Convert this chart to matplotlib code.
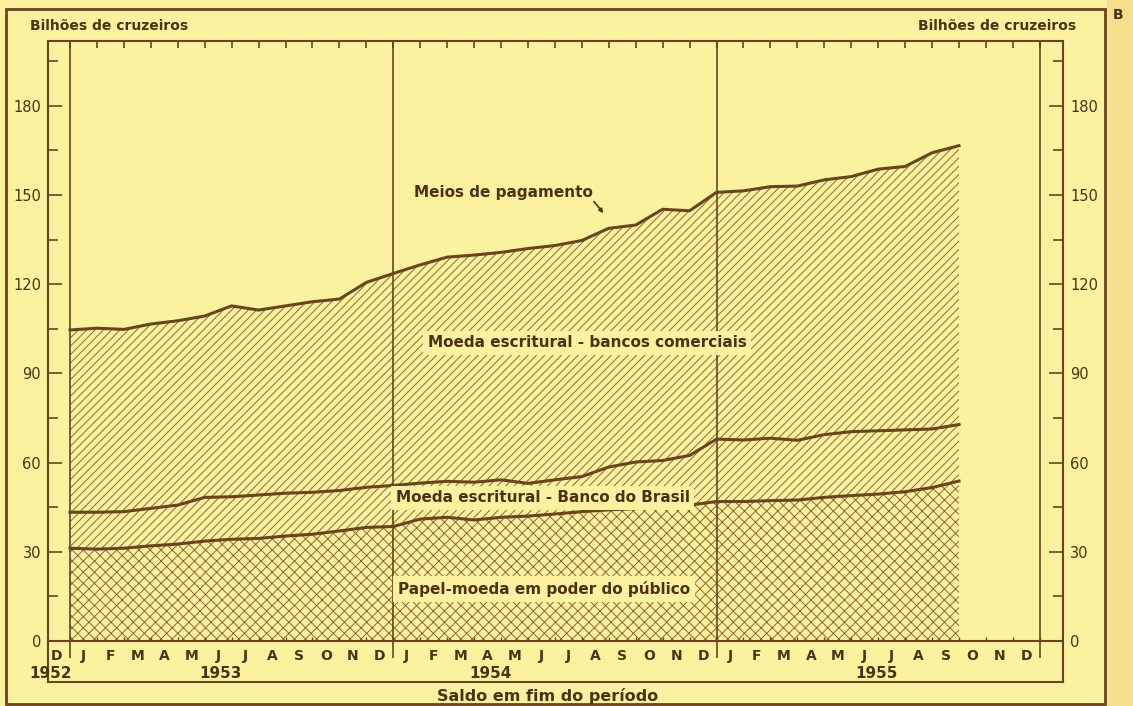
import numpy as np
import matplotlib
matplotlib.use("Agg")
import matplotlib.pyplot as plt
from matplotlib.patches import Rectangle

# fim de cada mes: dez/1952 ... set/1955
meses_idx = np.arange(34)
meios_pagamento = [104.6, 105.2, 104.8, 106.6, 107.7, 109.3, 112.7, 111.3, 112.7, 114.1, 115.0, 120.6,
                   123.6, 126.5, 129.1, 129.8, 130.7, 132.0, 133.0, 134.7, 138.8, 139.9, 145.2, 144.7,
                   150.9, 151.4, 152.8, 153.0, 155.1, 156.2, 158.7, 159.6, 164.2, 166.6]
# papel-moeda + moeda escritural do Banco do Brasil (nivel acumulado)
papel_mais_bb = [43.3, 43.3, 43.5, 44.6, 45.7, 48.3, 48.5, 49.1, 49.7, 50.0, 50.6, 51.7,
                 52.3, 53.1, 53.7, 53.4, 54.2, 53.0, 54.2, 55.3, 58.5, 60.2, 60.7, 62.4,
                 67.9, 67.6, 68.2, 67.5, 69.4, 70.4, 70.7, 71.0, 71.3, 72.8]
papel_moeda = [31.2, 30.9, 31.2, 32.0, 32.6, 33.6, 34.2, 34.5, 35.3, 35.9, 37.0, 38.2,
               38.5, 41.0, 41.6, 40.7, 41.6, 42.0, 42.7, 43.5, 44.1, 44.5, 45.0, 45.7,
               46.9, 46.9, 47.2, 47.4, 48.3, 48.9, 49.4, 50.2, 51.6, 53.8]

month_labels = ["D"] + ["J", "F", "M", "A", "M", "J", "J", "A", "S", "O", "N", "D"] * 3
year_labels = ["1952", "1953", "1954", "1955"]
year_pos = [-0.74, 5.6, 15.6, 29.95]
yticks_major = [0, 30, 60, 90, 120, 150, 180]

bg = "#FBF2A0"
brown = "#6B431C"
hatch_c = "#936431"
text_c = "#4E3012"

plt.rcParams["hatch.linewidth"] = 0.7
plt.rcParams["font.family"] = ["DejaVu Sans"]

W, H = 1133, 706
fig = plt.figure(figsize=(W / 100, H / 100), dpi=100)
fig.patch.set_facecolor(bg)

# faixa escura da borda direita do papel + moldura externa
fig.patches.append(Rectangle((1107 / W, 0), 1 - 1107 / W, 1, transform=fig.transFigure,
                             facecolor="#F6DE8C", edgecolor="none", zorder=0))
fig.patches.append(Rectangle((6 / W, 1 - 704 / H), 1099 / W, 695 / H, transform=fig.transFigure,
                             facecolor="none", edgecolor=brown, lw=2, zorder=1))

ax = fig.add_axes([48 / W, 1 - 682 / H, (1063 - 48) / W, (682 - 41) / H])
ax.set_facecolor(bg)
ax.set_xlim(-0.817, 36.86)
ax.set_ylim(-13.8, 201.8)

x = meses_idx
ax.fill_between(x, 0, papel_moeda, facecolor="none", edgecolor=hatch_c, hatch="xxx", lw=0)
ax.fill_between(x, papel_moeda, papel_mais_bb, facecolor="none", edgecolor=hatch_c, hatch="////", lw=0)
ax.fill_between(x, papel_mais_bb, meios_pagamento, facecolor="none", edgecolor=hatch_c, hatch="////", lw=0)
for serie in (papel_moeda, papel_mais_bb, meios_pagamento):
    ax.plot(x, serie, color=brown, lw=2.2, solid_joinstyle="round", zorder=4)

ax.axhline(0, color=brown, lw=1.5, zorder=5)
ax.vlines([0, 12, 24, 36], -5.6, 201.8, color=brown, lw=1.2, zorder=5)
ax.vlines(np.arange(0, 37), 0, 1.4, color=brown, lw=1.0, zorder=5)

for s in ax.spines.values():
    s.set_color(brown)
    s.set_linewidth(1.5)

ax.set_xticks(np.arange(0, 37))
ax.tick_params(axis="x", which="both", direction="in", top=True, bottom=False,
               labelbottom=False, length=5, width=1.2, color=brown)
ax.set_yticks(yticks_major)
ax.set_yticks(np.arange(15, 200, 30), minor=True)
ax.tick_params(axis="y", which="both", direction="in", left=True, right=True,
               labelleft=True, labelright=True, color=brown, width=1.2)
ax.tick_params(axis="y", which="major", length=10, pad=5, labelsize=10.5, labelcolor=text_c)
ax.tick_params(axis="y", which="minor", length=7)

for i, m in enumerate(month_labels):
    ax.text(i - 0.5, -5.0, m, ha="center", va="center", fontsize=10, fontweight="bold", color=text_c)
for yl, xp in zip(year_labels, year_pos):
    ax.text(xp, -10.8, yl, ha="center", va="center", fontsize=11, fontweight="bold", color=text_c)

lbl = dict(ha="center", va="center", fontsize=11, fontweight="bold", color=text_c)
box = dict(boxstyle="square,pad=0.3", fc=bg, ec="none")
ax.text(16.1, 151.0, "Meios de pagamento", zorder=6, **lbl)
ax.annotate("", xy=(19.8, 143.9), xytext=(19.45, 147.8),
            arrowprops=dict(arrowstyle="-|>", color=text_c, lw=1.2, mutation_scale=6,
                            shrinkA=0, shrinkB=0))
ax.text(19.2, 100.3, "Moeda escritural - bancos comerciais", bbox=box, zorder=6, **lbl)
ax.text(17.55, 48.1, "Moeda escritural - Banco do Brasil", bbox=box, zorder=6, **lbl)
ax.text(17.6, 17.5, "Papel-moeda em poder do público", bbox=box, zorder=6, **lbl)

fig.text(30 / W, 1 - 26 / H, "Bilhões de cruzeiros", ha="left", va="center",
         fontsize=10, fontweight="bold", color=text_c)
fig.text(1076 / W, 1 - 26 / H, "Bilhões de cruzeiros", ha="right", va="center",
         fontsize=10, fontweight="bold", color=text_c)
fig.text(548 / W, 1 - 696 / H, "Saldo em fim do período", ha="center", va="center",
         fontsize=11.5, fontweight="bold", color=text_c)
fig.text(1118 / W, 1 - 15 / H, "B", ha="center", va="center", fontsize=10,
         fontweight="bold", color=text_c)

fig.savefig("out.png", dpi=100, facecolor=bg)
